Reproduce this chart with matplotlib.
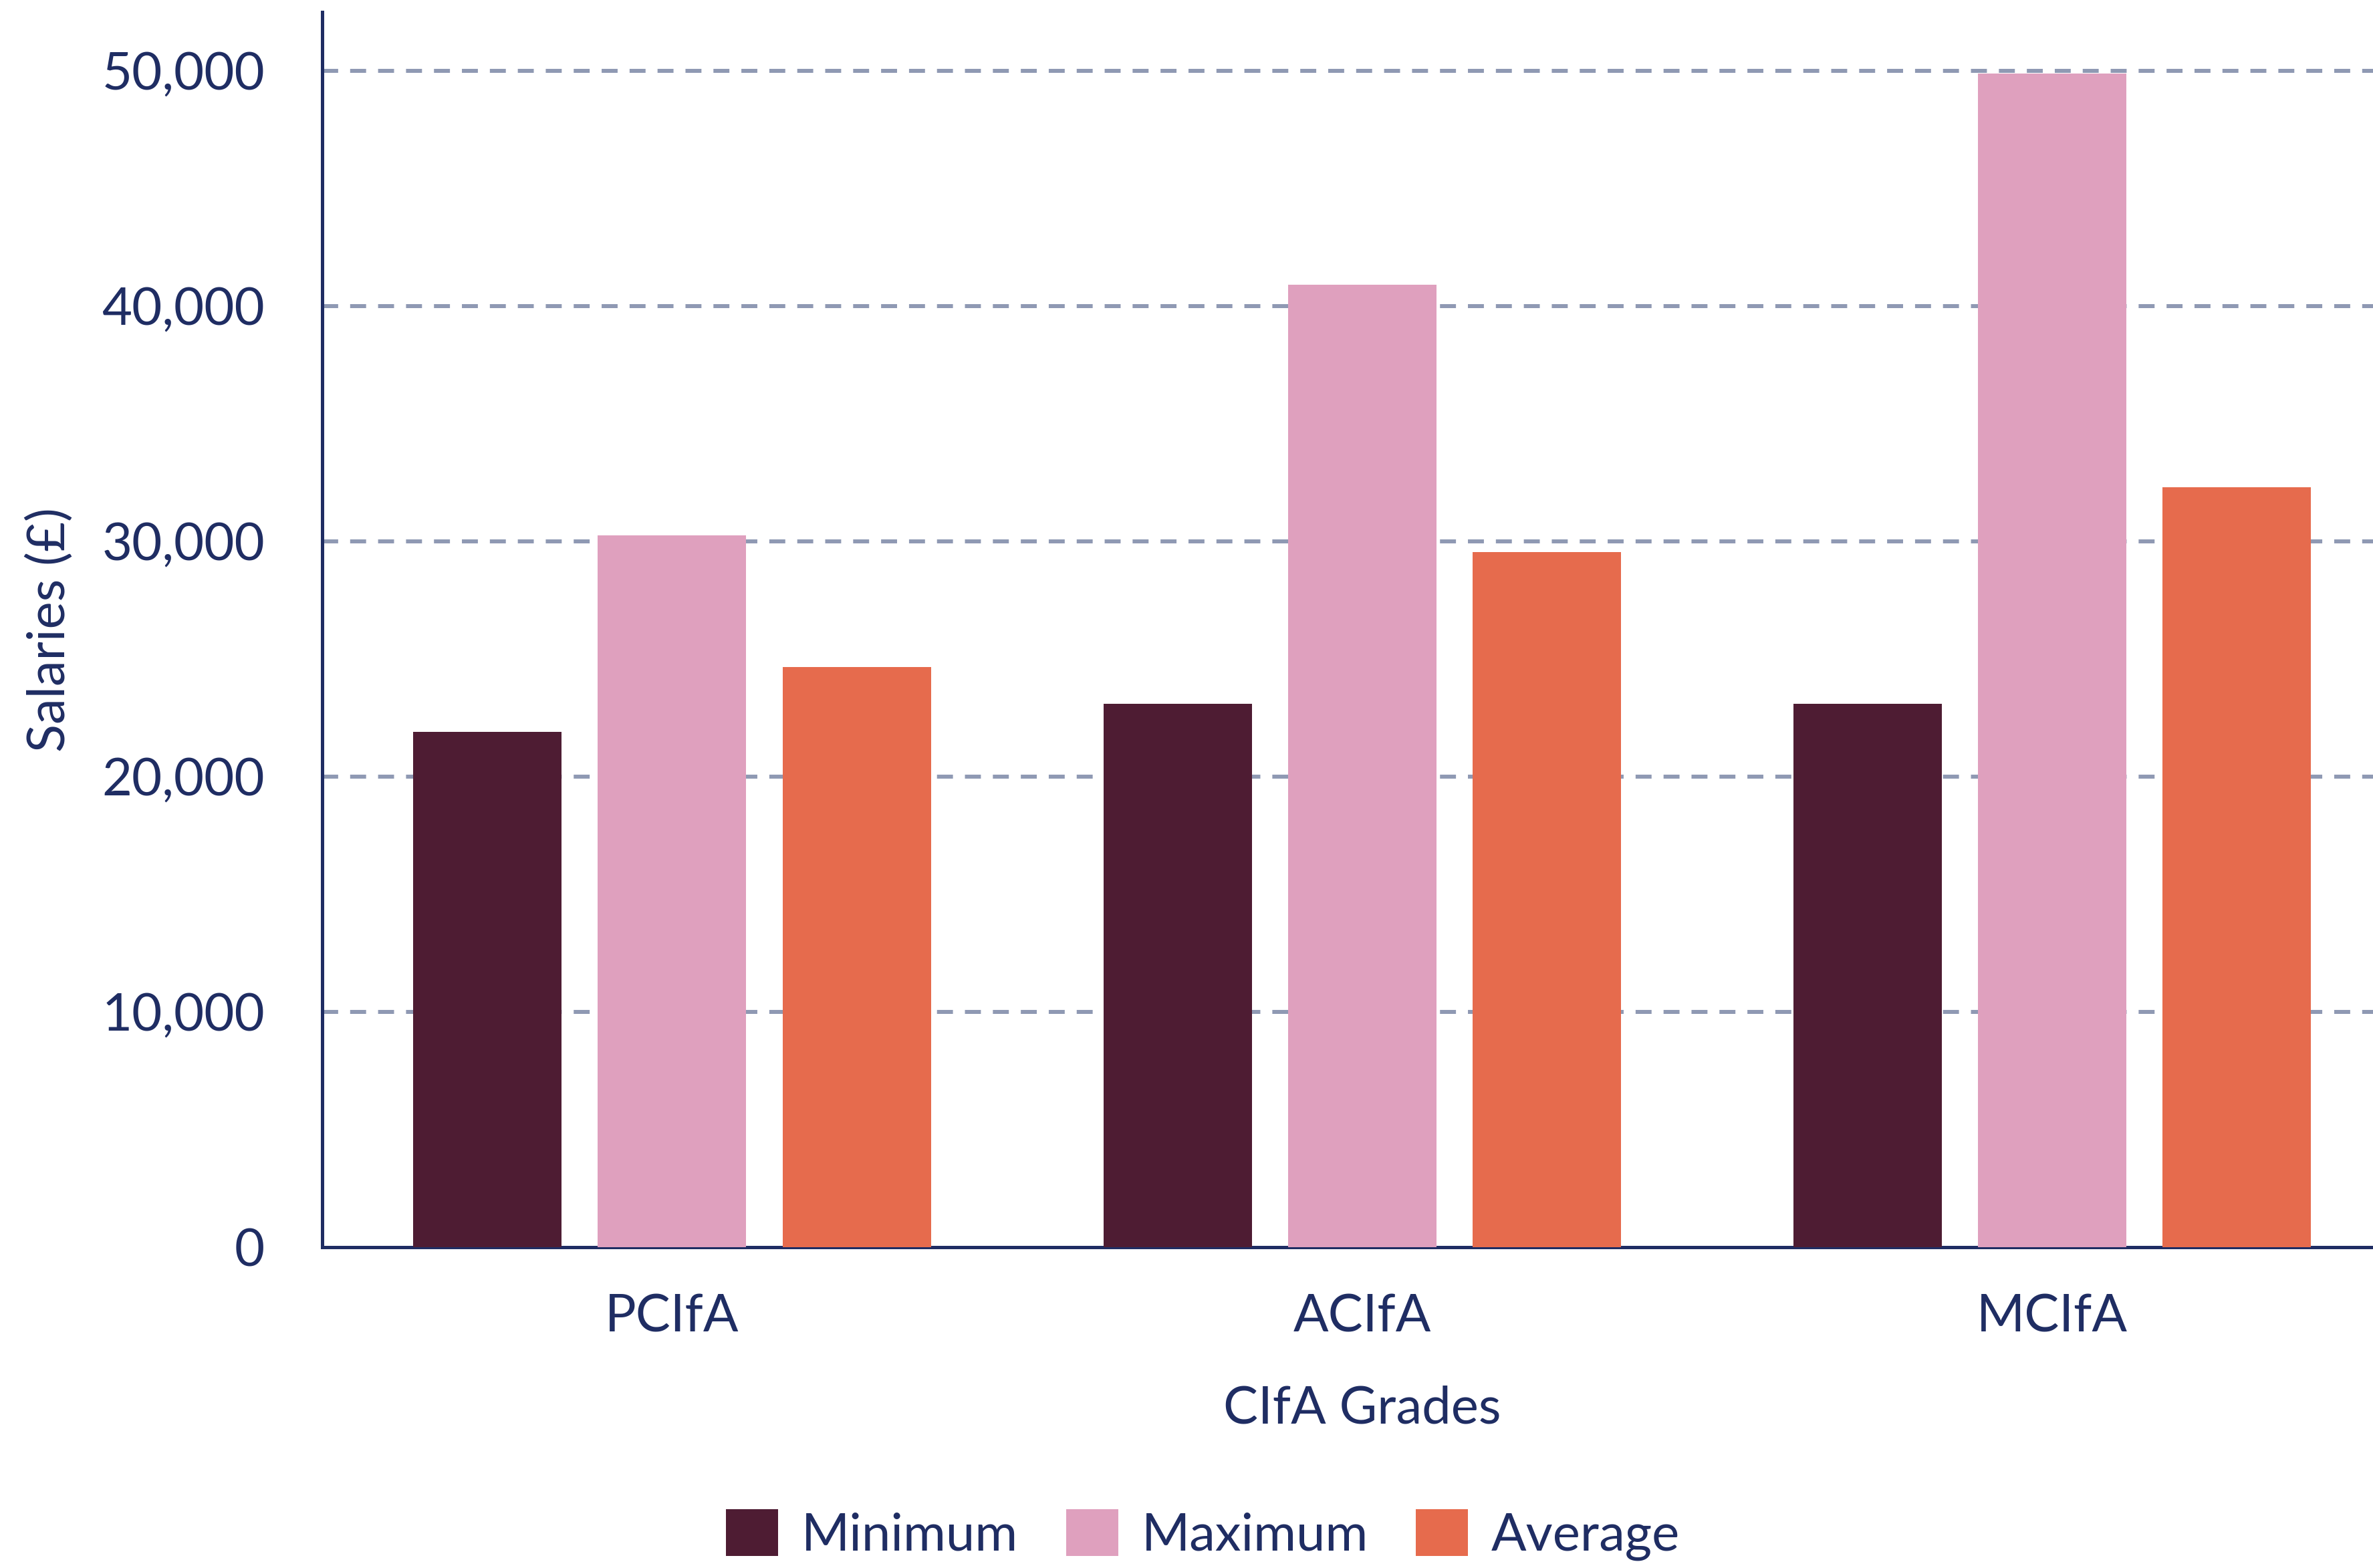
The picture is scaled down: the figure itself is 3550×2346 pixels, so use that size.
import numpy as np
import matplotlib
matplotlib.use("Agg")
import matplotlib.pyplot as plt
from matplotlib.ticker import FuncFormatter
from matplotlib.patches import FancyBboxPatch
from matplotlib.legend_handler import HandlerPatch

# Salary data
grades = ["PCIfA", "ACIfA", "MCIfA"]
minimum = [21900, 23100, 23100]
maximum = [30250, 40900, 49900]
average = [24650, 29550, 32300]

navy = "#1f2d63"
colors = ["#4e1c33", "#dfa0be", "#e66b4d"]

plt.rcParams["font.family"] = ["Lato", "DejaVu Sans"]

fig = plt.figure(figsize=(35.5, 23.46), dpi=100)
ax = fig.add_axes([0.1358, 0.2046, 1 - 0.1358, 0.7877])

x = np.arange(len(grades))
step = 0.2675
width = 0.215
ax.bar(x - step, minimum, width, color=colors[0], label="Minimum", zorder=3)
ax.bar(x, maximum, width, color=colors[1], label="Maximum", zorder=3)
ax.bar(x + step, average, width, color=colors[2], label="Average", zorder=3)

ax.set_xlim(-0.507, 2.465)
ax.set_ylim(0, 52500)
ax.set_yticks([0, 10000, 20000, 30000, 40000, 50000])
ax.yaxis.set_major_formatter(FuncFormatter(lambda v, p: f"{int(v):,}"))
ax.set_xticks(x)
ax.set_xticklabels(grades)

# dashed horizontal grid, skip the zero line
for v in [10000, 20000, 30000, 40000, 50000]:
    ax.axhline(v, color="#8f99b3", lw=4.3, dashes=(4, 3), zorder=1)

for s in ["top", "right"]:
    ax.spines[s].set_visible(False)
for s in ["left", "bottom"]:
    ax.spines[s].set_color(navy)
    ax.spines[s].set_linewidth(3.6)

ax.tick_params(axis="both", length=0, labelsize=56, labelcolor=navy)
ax.tick_params(axis="y", pad=62)
ax.tick_params(axis="x", pad=50)

ax.set_xlabel("CIfA Grades", fontsize=56, color=navy, va="center")
ax.xaxis.set_label_coords(0.507, -0.131)
ax.set_ylabel("Salaries (£)", fontsize=56, color=navy, va="center")
ax.yaxis.set_label_coords(-0.1327, 0.5)


def rounded_patch(legend, orig_handle, xdescent, ydescent, width, height, fontsize):
    return FancyBboxPatch((-xdescent, -ydescent), width, height,
                          boxstyle="round,pad=0,rounding_size=5")


fig.legend(loc="center", bbox_to_anchor=(0.507, 0.021), ncol=3, frameon=False,
           fontsize=56, labelcolor=navy, handlelength=1.0, handleheight=1.0,
           handletextpad=0.45, columnspacing=0.92,
           handler_map={matplotlib.patches.Rectangle: HandlerPatch(patch_func=rounded_patch)})

fig.savefig("out.png", dpi=100)
